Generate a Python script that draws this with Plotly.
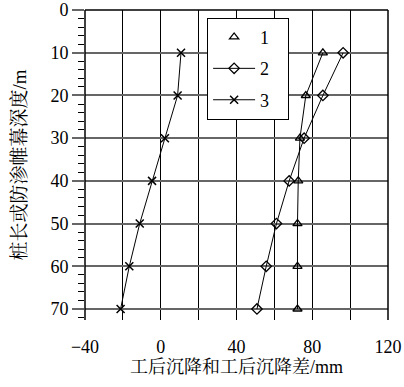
import plotly.graph_objects as go

depth = [10, 20, 30, 40, 50, 60, 70]
s1 = [85.6, 76.6, 73.5, 72.6, 72.2, 72.2, 72.2]
s2 = [96.3, 85.6, 75.7, 67.8, 61.1, 55.7, 50.8]
s3 = [10.7, 8.9, 2.2, -4.6, -11.1, -16.6, -21.2]
names = ["1", "2", "3"]
x_ticks = [-40, 0, 40, 80, 120]

FONT = "Liberation Serif, Times New Roman, Noto Serif CJK SC, Noto Sans CJK SC, serif"
PAD = "\u00a0\u00a0\u00a0"

fig = go.Figure()
fig.add_trace(go.Scatter(x=s1, y=depth, mode="lines", line=dict(color="black", width=1),
                         showlegend=False, hoverinfo="skip", legendgroup="a"))
fig.add_trace(go.Scatter(x=s1, y=depth, mode="markers", name=names[0] + PAD, legendgroup="a",
                         marker=dict(symbol="triangle-up-open", size=8, color="black",
                                     line=dict(width=1.3, color="black"))))
fig.add_trace(go.Scatter(x=s2, y=depth, mode="lines+markers", name=names[1] + PAD, legendgroup="b",
                         line=dict(color="black", width=1),
                         marker=dict(symbol="diamond-open", size=8, color="black",
                                     line=dict(width=1.3, color="black"))))
fig.add_trace(go.Scatter(x=s3, y=depth, mode="lines+markers", name=names[2] + PAD, legendgroup="c",
                         line=dict(color="black", width=1),
                         marker=dict(symbol="x-thin-open", size=8, color="black",
                                     line=dict(width=1.5, color="black"))))

fig.update_layout(
    width=404, height=387,
    margin=dict(l=85, r=16, t=10, b=67, autoexpand=False),
    paper_bgcolor="white", plot_bgcolor="white",
    font=dict(family=FONT, size=18, color="black"),
    showlegend=True,
    legend=dict(x=0.403, y=0.975, xanchor="left", yanchor="top",
                bgcolor="white", bordercolor="black", borderwidth=1,
                font=dict(family=FONT, size=18), itemwidth=42,
                tracegroupgap=5),
    xaxis=dict(range=[-40, 120], tickmode="array", tickvals=x_ticks,
               ticktext=[("\u2212" + str(-v)) if v < 0 else str(v) for v in x_ticks],
               showgrid=True, gridcolor="black", gridwidth=1, automargin=False,
               minor=dict(dtick=20, tick0=0, showgrid=True, gridcolor="black", gridwidth=1, ticks=""),
               zeroline=False, showline=False, ticks="", ticklabelstandoff=14,
               ticklabeloverflow="allow",
               title=dict(text="工后沉降和工后沉降差/mm", standoff=4,
                          font=dict(family=FONT, size=18))),
    yaxis=dict(range=[72.58, -0.02], tickmode="linear", tick0=0, dtick=10,
               showgrid=True, gridcolor="#666666", gridwidth=2, automargin=False,
               zeroline=False, showline=False,
               ticks="outside", ticklen=12, tickcolor="#666666", tickwidth=2,
               ticklabeloverflow="allow",
               minor=dict(tickmode="linear", tick0=0, dtick=2, ticks="outside", ticklen=6,
                          tickcolor="black", tickwidth=1, showgrid=False),
               title=dict(text="桩长或防渗帷幕深度/m", standoff=18,
                          font=dict(family=FONT, size=19))),
)

for x0, y0, x1, y1 in [(0, 0, 0, 1), (0, 1, 1, 1), (1, 0, 1, 1)]:
    fig.add_shape(type="line", xref="paper", yref="paper", x0=x0, y0=y0, x1=x1, y1=y1,
                  line=dict(color="black", width=1.5), layer="above")

fig.write_html("out.html")
